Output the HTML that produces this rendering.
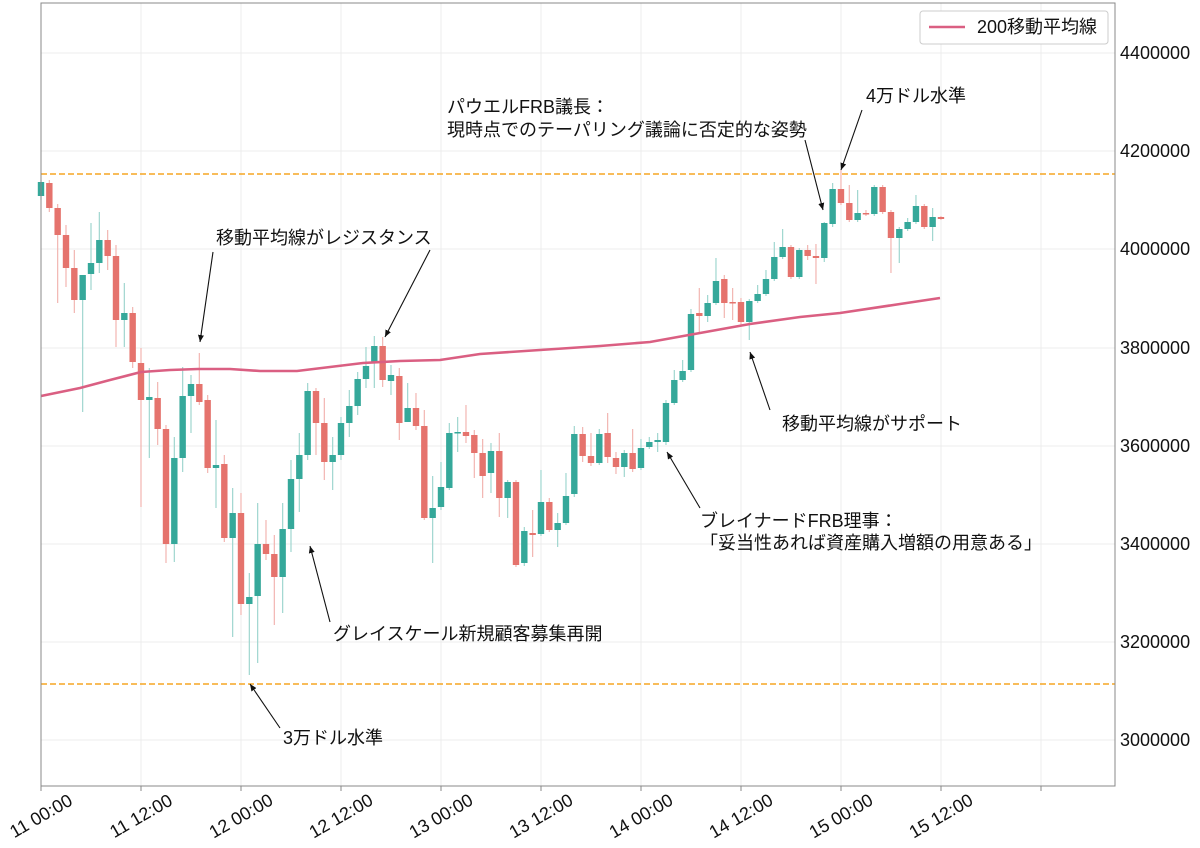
<!DOCTYPE html>
<html><head><meta charset="utf-8"><style>
html,body{margin:0;padding:0;background:#fff;}
svg{display:block;font-family:"Liberation Sans","Noto Sans CJK JP",sans-serif;}
</style></head><body>
<svg id="s" width="1200" height="848" xmlns="http://www.w3.org/2000/svg">
<rect x="0" y="0" width="1200" height="848" fill="#fff"/>
<g id="grid" stroke="#ececec" stroke-width="1"></g>
<line x1="41" y1="174" x2="1115" y2="174" stroke="#f5a623" stroke-width="1.6" stroke-dasharray="6,3"/>
<line x1="41" y1="684" x2="1115" y2="684" stroke="#f5a623" stroke-width="1.6" stroke-dasharray="6,3"/>
<g id="candles"></g>
<polyline fill="none" stroke="#da5f82" stroke-width="2.6" points="41,396 80,388 110,380 141,372 170,370 198,369 230,369 260,371 297,371 330,367 363,363 400,361 440,360 480,354 540,350 600,346 650,342 700,333 750,324 800,317 840,313 900,304 940,298"/>
<rect x="41" y="3" width="1074" height="783" fill="none" stroke="#888" stroke-width="1"/>
<g font-size="18" fill="#111">
<text x="1120" y="59">4400000</text>
<text x="1120" y="157">4200000</text>
<text x="1120" y="255">4000000</text>
<text x="1120" y="354">3800000</text>
<text x="1120" y="452">3600000</text>
<text x="1120" y="550">3400000</text>
<text x="1120" y="648">3200000</text>
<text x="1120" y="746">3000000</text>
</g>
<g font-size="18" fill="#111" text-anchor="middle">
<text transform="translate(41,816) rotate(-30)" y="6">11 00:00</text>
<text transform="translate(141,816) rotate(-30)" y="6">11 12:00</text>
<text transform="translate(241,816) rotate(-30)" y="6">12 00:00</text>
<text transform="translate(341,816) rotate(-30)" y="6">12 12:00</text>
<text transform="translate(441,816) rotate(-30)" y="6">13 00:00</text>
<text transform="translate(541,816) rotate(-30)" y="6">13 12:00</text>
<text transform="translate(641,816) rotate(-30)" y="6">14 00:00</text>
<text transform="translate(741,816) rotate(-30)" y="6">14 12:00</text>
<text transform="translate(841,816) rotate(-30)" y="6">15 00:00</text>
<text transform="translate(941,816) rotate(-30)" y="6">15 12:00</text>
</g>
<g stroke="#888"><line x1="41" y1="786" x2="41" y2="791"/><line x1="141" y1="786" x2="141" y2="791"/><line x1="241" y1="786" x2="241" y2="791"/><line x1="341" y1="786" x2="341" y2="791"/><line x1="441" y1="786" x2="441" y2="791"/><line x1="541" y1="786" x2="541" y2="791"/><line x1="641" y1="786" x2="641" y2="791"/><line x1="741" y1="786" x2="741" y2="791"/><line x1="841" y1="786" x2="841" y2="791"/><line x1="941" y1="786" x2="941" y2="791"/><line x1="1041" y1="786" x2="1041" y2="791"/></g>
<defs><marker id="ah" markerWidth="8" markerHeight="8" refX="7" refY="4" orient="auto" markerUnits="userSpaceOnUse"><path d="M0,1 L7,4 L0,7 z" fill="#111"/></marker></defs>
<g stroke="#111" stroke-width="1.1" marker-end="url(#ah)">
<line x1="213" y1="252" x2="200" y2="342"/>
<line x1="430" y1="250" x2="385" y2="337"/>
<line x1="805" y1="140" x2="823" y2="210"/>
<line x1="862" y1="110" x2="841" y2="170"/>
<line x1="770" y1="410" x2="750" y2="352"/>
<line x1="700" y1="508" x2="667" y2="452"/>
<line x1="330" y1="622" x2="310" y2="546"/>
<line x1="280" y1="728" x2="250" y2="684"/>
</g>
<g font-size="18" fill="#111">
<text x="216" y="244">移動平均線がレジスタンス</text>
<text x="447" y="113">パウエルFRB議長：</text>
<text x="447" y="136">現時点でのテーパリング議論に否定的な姿勢</text>
<text x="866" y="102">4万ドル水準</text>
<text x="782" y="430">移動平均線がサポート</text>
<text x="700" y="527">ブレイナードFRB理事：</text>
<text x="700" y="549">「妥当性あれば資産購入増額の用意ある」</text>
<text x="333" y="640">グレイスケール新規顧客募集再開</text>
<text x="283" y="744">3万ドル水準</text>
</g>
<rect x="920" y="11" width="188" height="33" rx="3" fill="#fff" stroke="#ccc"/>
<line x1="929" y1="27" x2="965" y2="27" stroke="#da5f82" stroke-width="2.6"/>
<text x="977" y="33" font-size="18" fill="#111">200移動平均線</text>
</svg>
<script>
var ns="http://www.w3.org/2000/svg";
var g=document.getElementById("grid");
function L(p,a,b,c,d){var e=document.createElementNS(ns,"line");e.setAttribute("x1",a);e.setAttribute("y1",b);e.setAttribute("x2",c);e.setAttribute("y2",d);p.appendChild(e);return e;}
for(var i=0;i<11;i++){L(g,41+i*100,3,41+i*100,786);}
[53,151,249,348,446,544,642,740].forEach(function(y){L(g,41,y,1115,y);});
var D=[[182,196,180,200,'g'],[183,208,180,212,'r'],[208,235,204,303,'r'],[235,268,225,287,'r'],[268,300,250,313,'r'],
[275,300,275,412,'g'],[263,274,223,290,'g'],[240,263,212,273,'g'],[240,256,230,270,'r'],[256,320,245,347,'r'],
[313,320,283,347,'g'],[313,362,307,368,'r'],[363,400,348,507,'r'],[397,400,368,458,'g'],[398,429,382,445,'r'],
[429,544,425,563,'r'],[458,544,437,562,'g'],[396,458,367,472,'g'],[384,396,375,433,'g'],[384,402,353,405,'r'],
[400,468,395,473,'r'],[465,468,420,508,'g'],[464,538,455,542,'r'],[513,538,488,637,'g'],[513,604,493,615,'r'],
[597,604,573,675,'g'],[544,596,503,663,'g'],[544,554,520,560,'r'],[554,577,535,625,'r'],[529,577,503,613,'g'],
[479,529,460,552,'g'],[455,479,433,512,'g'],[391,455,383,460,'g'],[391,423,388,455,'r'],[423,462,398,480,'r'],
[455,462,437,490,'g'],[423,455,417,460,'g'],[406,423,390,437,'g'],[379,406,372,415,'g'],[366,379,347,388,'g'],
[346,363,336,388,'g'],[346,380,337,387,'r'],[375,381,365,395,'g'],[376,423,368,440,'r'],[408,422,383,420,'g'],
[408,426,393,430,'r'],[426,518,410,520,'r'],[508,518,476,563,'g'],[487,507,462,510,'g'],[433,488,423,490,'g'],
[432,433,417,452,'g'],[432,436,405,443,'r'],[435,453,430,478,'r'],[453,476,439,498,'r'],[451,473,443,493,'g'],
[451,498,433,517,'r'],[482,498,480,518,'g'],[482,565,480,567,'r'],[531,563,527,566,'g'],[533,535,510,557,'r'],
[502,534,470,536,'g'],[502,530,498,532,'r'],[523,530,513,547,'g'],[496,523,473,525,'g'],[434,494,426,497,'g'],
[434,456,427,462,'r'],[456,463,433,466,'r'],[434,463,429,465,'g'],[433,457,413,463,'r'],[458,467,452,474,'r'],
[453,467,450,477,'g'],[453,469,429,472,'r'],[448,468,439,470,'g'],[442,447,437,449,'g'],[440,442,433,452,'g'],
[403,442,400,445,'g'],[380,403,370,405,'g'],[371,380,360,382,'g'],[314,370,309,372,'g'],[313,316,288,333,'r'],
[303,316,295,322,'g'],[281,303,258,305,'g'],[279,303,275,318,'r'],[302,303,288,320,'r'],[302,322,298,325,'r'],
[301,322,299,340,'g'],[294,301,285,303,'g'],[279,294,270,296,'g'],[257,279,242,281,'g'],[247,257,229,259,'g'],
[247,277,245,279,'r'],[250,277,248,279,'g'],[250,256,245,260,'r'],[256,258,244,284,'r'],[223,258,222,262,'g'],
[189,224,183,227,'g'],[189,203,170,205,'r'],[203,220,185,222,'r'],[213,220,190,222,'g'],[213,214,210,216,'r'],
[187,214,185,216,'g'],[187,212,185,214,'r'],[212,238,210,273,'r'],[229,238,227,263,'g'],[222,229,218,231,'g'],
[206,222,195,224,'g'],[206,227,204,229,'r'],[217,227,208,241,'g'],[217,219,216,220,'r']];
var c=document.getElementById("candles");
D.forEach(function(d,i){
 var x=41+i*8.333;var col=d[4]=='g'?'#35a89a':'#e5736d';var wc=d[4]=='g'?'#9fd6cf':'#f2b5b1';
 var w=L(c,x,d[2],x,d[3]);w.setAttribute("stroke",wc);w.setAttribute("stroke-width","1.2");
 var r=document.createElementNS(ns,"rect");r.setAttribute("x",x-3.2);r.setAttribute("y",d[0]);r.setAttribute("width",6.4);r.setAttribute("height",Math.max(1.5,d[1]-d[0]));r.setAttribute("fill",col);c.appendChild(r);
});
</script>
</body></html>
